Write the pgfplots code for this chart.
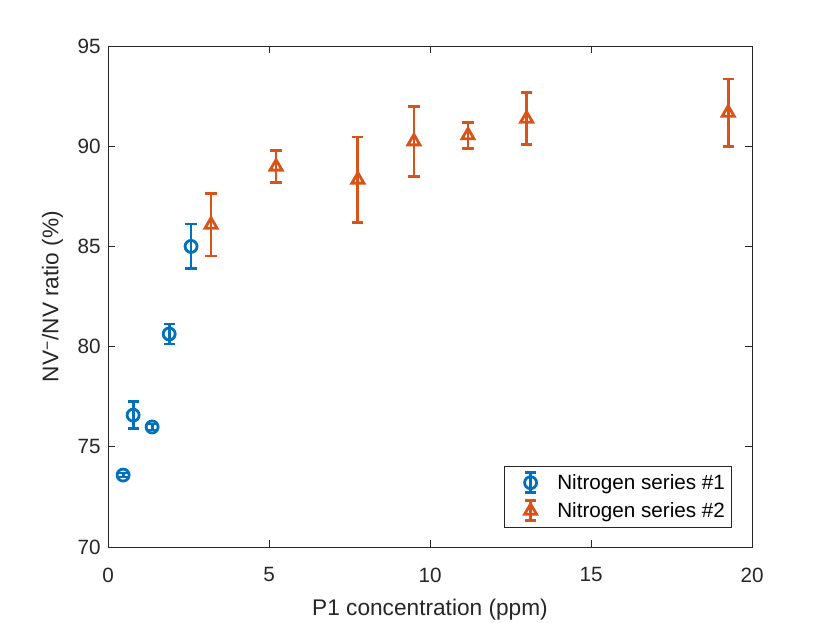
\documentclass[border=0pt]{standalone}
\usepackage{pgfplots}
\pgfplotsset{compat=1.18}
\usepackage{fontspec}
\setmainfont{Liberation Sans}
\definecolor{mblue}{rgb}{0,0.447,0.741}
\definecolor{morange}{rgb}{0.85,0.325,0.098}
\definecolor{axgray}{rgb}{0.15,0.15,0.15}
\pgfplotsset{errleg/.style={legend image code/.code={
  \path[draw=none, fill=none] (0pt,0pt) rectangle (35pt,1pt);
  \draw[##1, line width=2.1pt] (17pt,-7.5pt) -- (17pt,7.5pt);
  \draw[##1, line width=2.1pt] (13pt,-7.5pt) -- (21pt,-7.5pt);
  \draw[##1, line width=2.1pt] (13pt,7.5pt) -- (21pt,7.5pt);
  \draw[##1, line width=2.1pt] plot coordinates {(17pt,0pt)};
}}}
\begin{document}
\begin{tikzpicture}[x=1pt,y=1pt]
\useasboundingbox (-81,-57) rectangle (541.5,410.25);
\begin{axis}[
  at={(0,0)}, anchor=south west,
  scale only axis, width=483pt, height=375.75pt,
  xmin=0, xmax=20, ymin=70, ymax=95,
  xtick={0,5,...,20}, ytick={70,75,...,95},
  tick align=inside, major tick length=5pt,
  axis line style={axgray, line width=0.6pt},
  every tick/.style={axgray, line width=0.6pt},
  tick label style={font=\fontsize{15.5}{18}\selectfont, text=axgray},
  /pgf/number format/assume math mode=true,
  xticklabel style={yshift=-12pt},
  yticklabel style={xshift=-2pt},
  xlabel={P1 concentration (ppm)},
  ylabel={NV\textsuperscript{\raisebox{-0.3ex}{\textminus}}/NV ratio (\%)},
  label style={font=\fontsize{17}{20}\selectfont, text=axgray},
  xlabel style={yshift=-6pt},
  ylabel style={yshift=4pt},
  legend style={at={(0.969,0.038)}, anchor=south east, draw=axgray, line width=0.6pt,
    font=\fontsize{15.5}{18}\selectfont, row sep=4pt, inner xsep=3pt, inner ysep=4pt,
    cells={anchor=west}},
  legend cell align=left,
]
\addplot[only marks, mblue, mark=o, mark size=4.5pt, line width=2.1pt,
  mark options={line width=2.1pt}, errleg,
  error bars/.cd, y dir=both, y explicit,
  error bar style={line width=2.1pt},
  error mark options={mblue, mark size=4.2pt, line width=2.1pt, rotate=90}]
  table[x=x, y=y, y error=e] {
x y e
0.47 73.59 0.10
0.78 76.58 0.67
1.37 75.99 0.15
1.90 80.63 0.50
2.58 85.00 1.12
};
\addlegendentry{Nitrogen series \#1}
\addplot[only marks, morange, mark=triangle, mark size=5.2pt, line width=2.1pt,
  mark options={line width=2.1pt}, errleg,
  error bars/.cd, y dir=both, y explicit,
  error bar style={line width=2.1pt},
  error mark options={morange, mark size=4.2pt, line width=2.1pt, rotate=90}]
  table[x=x, y=y, y error=e] {
x y e
3.20 86.08 1.56
5.22 88.98 0.80
7.76 88.33 2.13
9.50 90.24 1.76
11.18 90.54 0.65
13.00 91.37 1.30
19.26 91.67 1.68
};
\addlegendentry{Nitrogen series \#2}
\end{axis}
\end{tikzpicture}
\end{document}
